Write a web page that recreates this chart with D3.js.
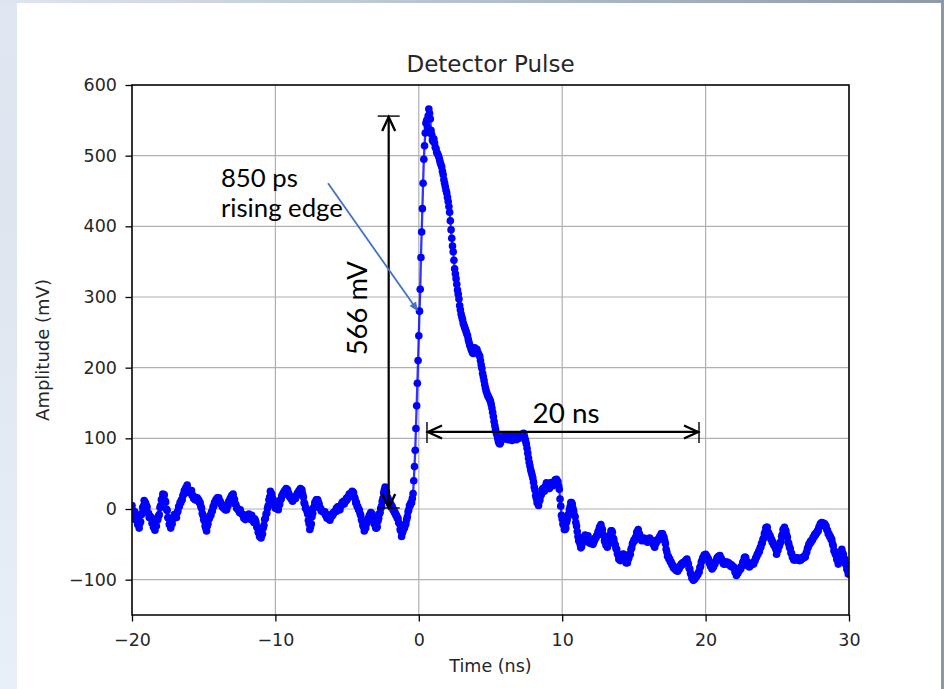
<!DOCTYPE html>
<html><head><meta charset="utf-8">
<script src="https://cdn.jsdelivr.net/npm/d3@7"></script>
<style>html,body{margin:0;padding:0;background:#fff;overflow:hidden}svg{display:block}</style>
</head><body>
<script>
// ---------------- data ----------------
const chartTitle = "Detector Pulse";
const xAxisLabel = "Time (ns)";
const yAxisLabel = "Amplitude (mV)";
const xTickValues = [-20, -10, 0, 10, 20, 30];
const yTickValues = [-100, 0, 100, 200, 300, 400, 500, 600];
const xDomain = [-20, 30];
const yDomain = [-150, 600];
// oscilloscope sample clock
const sampleStartNs = -20;
const sampleStepNs = 0.05;
// amplitude samples (mV), one row per ns
const amplitudeMv = [
  5, -2, -8, -14, -4, -10, -16, -14, -22, -20, -27, -20, -18, -8, -6, 2, 4, 12, 10, 8,
  4, 3, -5, -6, -12, -10, -13, -12, -20, -18, -26, -24, -30, -23, -24, -16, -15, -10, -8, 2,
  5, 13, 14, 21, 19, 20, 12, 10, 0, -2, -12, -13, -22, -20, -27, -22, -21, -14, -13, -8,
  -11, -10, -12, -5, -3, 3, 4, 9, 9, 13, 13, 19, 21, 26, 26, 30, 29, 34, 27, 27,
  23, 24, 24, 26, 19, 19, 15, 17, 13, 13, 13, 16, 12, 13, 9, 9, 4, 1, -6, -9,
  -15, -17, -24, -27, -31, -24, -21, -14, -13, -9, -9, -4, -3, 3, 4, 9, 9, 13, 13, 16,
  15, 16, 11, 11, 7, 7, 3, 4, 1, 2, -1, -1, -1, 4, 5, 11, 11, 15, 15, 19,
  17, 21, 15, 13, 7, 6, 1, 1, -1, -1, -5, -1, -6, -7, -7, -9, -13, -9, -15, -11,
  -13, -13, -11, -7, -13, -14, -15, -9, -13, -15, -19, -14, -16, -19, -25, -27, -33, -34, -39, -39,
  -41, -37, -35, -27, -23, -15, -13, -7, -6, 1, 5, 13, 17, 25, 21, 21, 15, 13, 7, 5,
  1, 1, 3, 3, -1, 5, 7, 13, 14, 19, 19, 23, 23, 26, 25, 29, 27, 27, 23, 21,
  17, 17, 14, 15, 11, 15, 14, 15, 15, 19, 19, 23, 23, 26, 25, 29, 26, 27, 21, 17,
  9, 7, 1, 1, -3, -7, -16, -21, -29, -25, -21, -11, -6, 1, 3, 9, 9, 13, 13, 13,
  9, 7, 1, 1, -3, -3, -3, -4, -5, -4, -9, -9, -13, -9, -9, -11, -16, -11, -11, -7,
  -9, -5, -5, -4, -3, 1, -3, 3, 3, 3, -1, 5, 5, 9, 9, 11, 7, 11, 11, 15,
  13, 17, 17, 21, 21, 22, 21, 25, 24, 23, 17, 15, 9, 9, 4, 3, -1, -1, -6, -9,
  -15, -17, -23, -25, -31, -27, -27, -21, -19, -14, -13, -9, -9, -5, -6, -7, -13, -14, -21, -23,
  -27, -27, -25, -17, -13, -7, -5, 1, 4, 11, 15, 23, 27, 31, 25, 23, 17, 15, 11, 11,
  7, 7, 4, 3, -1, -1, -5, -5, -9, -9, -13, -13, -19, -21, -29, -31, -39, -34, -31, -25,
  -27, -23, -21, -15, -11, -4, -1, 5, 5, 9, 9, 15, 22, 40, 60, 83, 114, 146, 178, 210,
  245, 280, 311, 356, 392, 425, 461, 495, 514, 532, 546, 550, 540, 556, 566, 560, 552, 536, 530, 522,
  520, 524, 518, 512, 510, 505, 503, 501, 498, 494, 490, 487, 484, 478, 473, 466, 461, 456, 451, 447,
  441, 435, 428, 420, 408, 395, 383, 372, 364, 352, 340, 333, 326, 318, 310, 304, 297, 288, 282, 276,
  272, 268, 263, 260, 257, 254, 251, 248, 245, 240, 236, 232, 230, 226, 224, 221, 220, 224, 228, 226,
  224, 226, 222, 220, 218, 216, 210, 204, 199, 192, 187, 182, 176, 171, 167, 164, 161, 159, 157, 155,
  152, 148, 143, 137, 131, 124, 118, 113, 108, 105, 100, 96, 93, 92, 94, 98, 101, 102, 100, 103,
  101, 99, 102, 104, 101, 98, 100, 103, 102, 100, 97, 99, 102, 104, 103, 100, 98, 101, 103, 102,
  100, 102, 104, 103, 105, 106, 107, 104, 100, 96, 92, 86, 79, 72, 66, 61, 56, 52, 48, 44,
  38, 31, 27, 19, 15, 9, 9, 5, 11, 13, 19, 21, 27, 29, 29, 25, 31, 33, 37, 31,
  33, 29, 29, 31, 37, 37, 37, 33, 37, 37, 41, 41, 42, 39, 39, 33, 28, 14, 4, -9,
  -14, -21, -23, -29, -29, -27, -19, -15, -9, -7, -1, 3, 9, 9, 7, 1, -3, -9, -11, -19,
  -24, -32, -39, -45, -42, -50, -55, -53, -48, -46, -40, -42, -37, -40, -46, -42, -38, -44, -48, -44,
  -45, -49, -48, -50, -46, -45, -41, -41, -38, -37, -32, -31, -26, -25, -22, -27, -29, -36, -38, -45,
  -47, -51, -51, -54, -49, -46, -39, -37, -31, -31, -33, -41, -43, -49, -51, -56, -57, -63, -65, -71,
  -69, -73, -69, -69, -64, -64, -64, -69, -71, -76, -76, -76, -71, -69, -64, -64, -57, -55, -49, -47,
  -44, -45, -41, -39, -33, -32, -29, -34, -36, -41, -42, -45, -42, -42, -41, -45, -44, -44, -43, -47,
  -44, -44, -41, -45, -45, -45, -45, -50, -51, -54, -49, -48, -44, -45, -43, -43, -39, -39, -35, -35,
  -35, -39, -40, -45, -49, -57, -61, -67, -67, -71, -71, -75, -75, -79, -79, -83, -82, -85, -84, -87,
  -85, -88, -85, -85, -81, -81, -78, -79, -76, -78, -75, -76, -73, -74, -71, -76, -78, -84, -85, -91,
  -93, -98, -98, -101, -98, -99, -95, -96, -93, -93, -90, -89, -83, -81, -75, -73, -69, -69, -65, -66,
  -64, -67, -67, -71, -71, -76, -77, -81, -81, -85, -82, -82, -78, -78, -74, -73, -69, -70, -67, -68,
  -66, -70, -70, -74, -74, -78, -77, -78, -75, -76, -75, -78, -76, -79, -78, -81, -79, -82, -81, -83,
  -83, -89, -90, -94, -91, -91, -87, -87, -84, -85, -81, -80, -75, -74, -69, -68, -69, -74, -75, -80,
  -81, -82, -79, -80, -77, -78, -76, -78, -74, -73, -69, -68, -64, -64, -60, -60, -55, -54, -49, -48,
  -43, -41, -35, -33, -27, -26, -26, -33, -34, -38, -38, -42, -43, -47, -47, -51, -51, -54, -57, -64,
  -59, -58, -53, -52, -48, -46, -39, -36, -29, -29, -26, -30, -31, -37, -40, -47, -49, -54, -56, -62,
  -63, -68, -69, -72, -71, -72, -69, -70, -69, -72, -71, -73, -71, -72, -69, -70, -68, -69, -67, -68,
  -63, -61, -56, -54, -50, -50, -46, -47, -44, -44, -40, -40, -36, -37, -34, -34, -31, -31, -26, -25,
  -21, -22, -19, -21, -20, -22, -21, -24, -24, -29, -30, -35, -35, -39, -39, -43, -43, -49, -52, -59,
  -60, -64, -65, -71, -73, -78, -73, -71, -65, -63, -57, -62, -64, -70, -71, -77, -79, -85, -87, -92,
  -92
];
// annotations (data coordinates)
const heightNote = { label: "566 mV", t: -2.1, low: 0, high: 556, labelT: -3.61, labelV: 284 };
const widthNote = { label: "20 ns", v: 109, start: 0.57, end: 19.54, labelT: 10.27, labelV: 122 };
const riseNote = { lines: ["850 ps", "rising edge"], t: -13.8, v: [456, 413],
                   arrowFrom: [-6.33, 461], arrowTo: [-0.06, 280] };

// ---------------- drawing ----------------
const W = 944, H = 689;
const svg = d3.select("body").append("svg").attr("width", W).attr("height", H);

// slide-like surroundings
const defs = svg.append("defs");
const lg = defs.append("linearGradient").attr("id", "leftbg").attr("x1", 0).attr("y1", 0).attr("x2", 0).attr("y2", 1);
lg.append("stop").attr("offset", "0%").attr("stop-color", "#dfe7f2");
lg.append("stop").attr("offset", "30%").attr("stop-color", "#dde5ef");
lg.append("stop").attr("offset", "100%").attr("stop-color", "#e9eff8");
const tg = defs.append("linearGradient").attr("id", "topbg").attr("x1", 0).attr("y1", 0).attr("x2", 1).attr("y2", 0);
tg.append("stop").attr("offset", "0%").attr("stop-color", "#dfe6f0");
tg.append("stop").attr("offset", "45%").attr("stop-color", "#b9c4d2");
tg.append("stop").attr("offset", "100%").attr("stop-color", "#8f9aa8");
svg.append("rect").attr("width", W).attr("height", H).attr("fill", "url(#leftbg)");
svg.append("rect").attr("width", W).attr("height", 3).attr("fill", "url(#topbg)");
svg.append("rect").attr("x", 941).attr("width", 3).attr("height", H).attr("fill", "#8d98a6");
svg.append("rect").attr("x", 17).attr("y", 3).attr("width", 924).attr("height", H - 3).attr("fill", "#ffffff");

const x = d3.scaleLinear().domain(xDomain).range([132, 849]);
const y = d3.scaleLinear().domain(yDomain).range([615, 85]);
const fmt = d => (d < 0 ? "\u2212" + Math.abs(d) : String(d));
const FONT = "'DejaVu Sans', sans-serif";

// grid
const grid = svg.append("g").attr("stroke", "#b0b0b0").attr("stroke-width", 1.2);
xTickValues.forEach(t => grid.append("line").attr("x1", x(t)).attr("x2", x(t)).attr("y1", y.range()[0]).attr("y2", y.range()[1]));
yTickValues.forEach(v => grid.append("line").attr("y1", y(v)).attr("y2", y(v)).attr("x1", x.range()[0]).attr("x2", x.range()[1]));

// series
const pts = amplitudeMv.map((v, i) => ({ t: sampleStartNs + i * sampleStepNs, v }));
svg.append("clipPath").attr("id", "plotclip").append("rect")
  .attr("x", x.range()[0]).attr("y", y.range()[1])
  .attr("width", x.range()[1] - x.range()[0]).attr("height", y.range()[0] - y.range()[1]);
const plot = svg.append("g").attr("clip-path", "url(#plotclip)");
plot.append("path").datum(pts)
  .attr("d", d3.line().x(d => x(d.t)).y(d => y(d.v)))
  .attr("fill", "none").attr("stroke", "#0000ff").attr("stroke-width", 2.3).attr("stroke-opacity", 0.8);
plot.selectAll("circle").data(pts).join("circle")
  .attr("cx", d => x(d.t)).attr("cy", d => y(d.v)).attr("r", 3.8).attr("fill", "#0000ff");

// axes
const xAxis = svg.append("g").attr("transform", `translate(0,${y.range()[0]})`)
  .call(d3.axisBottom(x).tickValues(xTickValues).tickFormat(fmt).tickSize(6.5).tickPadding(12).tickSizeOuter(0));
const yAxis = svg.append("g").attr("transform", `translate(${x.range()[0]},0)`)
  .call(d3.axisLeft(y).tickValues(yTickValues).tickFormat(fmt).tickSize(6.5).tickPadding(8.5).tickSizeOuter(0));
[xAxis, yAxis].forEach(g => {
  g.select(".domain").remove();
  g.selectAll(".tick line").attr("stroke", "#000").attr("stroke-width", 1.3);
  g.selectAll(".tick text").attr("font-family", FONT).attr("font-size", 17.5).attr("fill", "#262626");
});
// frame
svg.append("rect").attr("x", x.range()[0]).attr("y", y.range()[1])
  .attr("width", x.range()[1] - x.range()[0]).attr("height", y.range()[0] - y.range()[1])
  .attr("fill", "none").attr("stroke", "#000").attr("stroke-width", 1.5);

// titles
svg.append("text").attr("x", (x.range()[0] + x.range()[1]) / 2).attr("y", 72)
  .attr("text-anchor", "middle").attr("font-family", FONT).attr("font-size", 23).attr("fill", "#262626").text(chartTitle);
svg.append("text").attr("x", (x.range()[0] + x.range()[1]) / 2).attr("y", 672)
  .attr("text-anchor", "middle").attr("font-family", FONT).attr("font-size", 17.5).attr("fill", "#262626").text(xAxisLabel);
svg.append("text").attr("transform", `translate(49,${(y.range()[0] + y.range()[1]) / 2}) rotate(-90)`)
  .attr("text-anchor", "middle").attr("font-family", FONT).attr("font-size", 18).attr("fill", "#262626").text(yAxisLabel);

// annotation helpers
const ANN = "Lato, 'Open Sans', sans-serif";
function fit(sel, target) {
  const w = sel.node().getComputedTextLength();
  const fs = parseFloat(sel.attr("font-size"));
  sel.attr("font-size", fs * target / w);
  return sel;
}
function openHead(g, tx, ty, dx, dy, len, half, color, width) {
  const n = Math.hypot(dx, dy), ux = dx / n, uy = dy / n;
  const bx = tx - ux * len, by = ty - uy * len;
  g.append("path")
    .attr("d", `M${bx - uy * half},${by + ux * half}L${tx},${ty}L${bx + uy * half},${by - ux * half}`)
    .attr("fill", "none").attr("stroke", color).attr("stroke-width", width).attr("stroke-linejoin", "miter");
}
const ann = svg.append("g");

// vertical 566 mV marker
{
  const ax = x(heightNote.t), top = y(heightNote.high), bot = y(heightNote.low);
  ann.append("line").attr("x1", ax).attr("x2", ax).attr("y1", top + 1).attr("y2", bot - 1).attr("stroke", "#000").attr("stroke-width", 2.2);
  ann.append("line").attr("x1", ax - 11).attr("x2", ax + 11).attr("y1", top).attr("y2", top).attr("stroke", "#000").attr("stroke-width", 1.4);
  ann.append("line").attr("x1", ax - 11).attr("x2", ax + 11).attr("y1", bot - 1).attr("y2", bot - 1).attr("stroke", "#000").attr("stroke-width", 1.4);
  openHead(ann, ax, top + 1, 0, -1, 14, 6.5, "#000", 2.4);
  openHead(ann, ax, bot - 1, 0, 1, 14, 6.5, "#000", 2.4);
  const t = ann.append("text").attr("transform", `translate(${x(heightNote.labelT)},${y(heightNote.labelV)}) rotate(-90)`)
    .attr("text-anchor", "middle").attr("font-family", ANN).attr("font-size", 24).attr("fill", "#000").text(heightNote.label);
  fit(t, 94);
}
// horizontal 20 ns marker
{
  const ay = y(widthNote.v), l = x(widthNote.start), r = x(widthNote.end);
  ann.append("line").attr("x1", l + 1).attr("x2", r - 1).attr("y1", ay).attr("y2", ay).attr("stroke", "#000").attr("stroke-width", 2.2);
  ann.append("line").attr("x1", l).attr("x2", l).attr("y1", ay - 10).attr("y2", ay + 11).attr("stroke", "#000").attr("stroke-width", 1.4);
  ann.append("line").attr("x1", r).attr("x2", r).attr("y1", ay - 10).attr("y2", ay + 11).attr("stroke", "#000").attr("stroke-width", 1.4);
  openHead(ann, l + 1, ay, -1, 0, 14, 6.5, "#000", 2.4);
  openHead(ann, r - 1, ay, 1, 0, 14, 6.5, "#000", 2.4);
  const t = ann.append("text").attr("x", x(widthNote.labelT)).attr("y", y(widthNote.labelV))
    .attr("text-anchor", "middle").attr("font-family", ANN).attr("font-size", 24).attr("fill", "#000").text(widthNote.label);
  fit(t, 67);
}
// rising edge note
{
  const t2 = ann.append("text").attr("x", x(riseNote.t)).attr("y", y(riseNote.v[1]))
    .attr("font-family", ANN).attr("font-size", 22).attr("fill", "#000").text(riseNote.lines[1]);
  fit(t2, 122);
  ann.append("text").attr("x", x(riseNote.t)).attr("y", y(riseNote.v[0]))
    .attr("font-family", ANN).attr("font-size", t2.attr("font-size")).attr("fill", "#000").text(riseNote.lines[0]);
  const x1 = x(riseNote.arrowFrom[0]), y1 = y(riseNote.arrowFrom[1]);
  const x2 = x(riseNote.arrowTo[0]), y2 = y(riseNote.arrowTo[1]);
  const n = Math.hypot(x2 - x1, y2 - y1), ux = (x2 - x1) / n, uy = (y2 - y1) / n;
  const L = 9, hw = 4;
  ann.append("line").attr("x1", x1).attr("y1", y1).attr("x2", x2 - ux * (L - 1)).attr("y2", y2 - uy * (L - 1))
    .attr("stroke", "#4472c4").attr("stroke-width", 1.8);
  const bx = x2 - ux * L, by = y2 - uy * L;
  ann.append("path").attr("d", `M${x2},${y2}L${bx - uy * hw},${by + ux * hw}L${bx + uy * hw},${by - ux * hw}Z`).attr("fill", "#4472c4");
}
</script>
</body></html>
